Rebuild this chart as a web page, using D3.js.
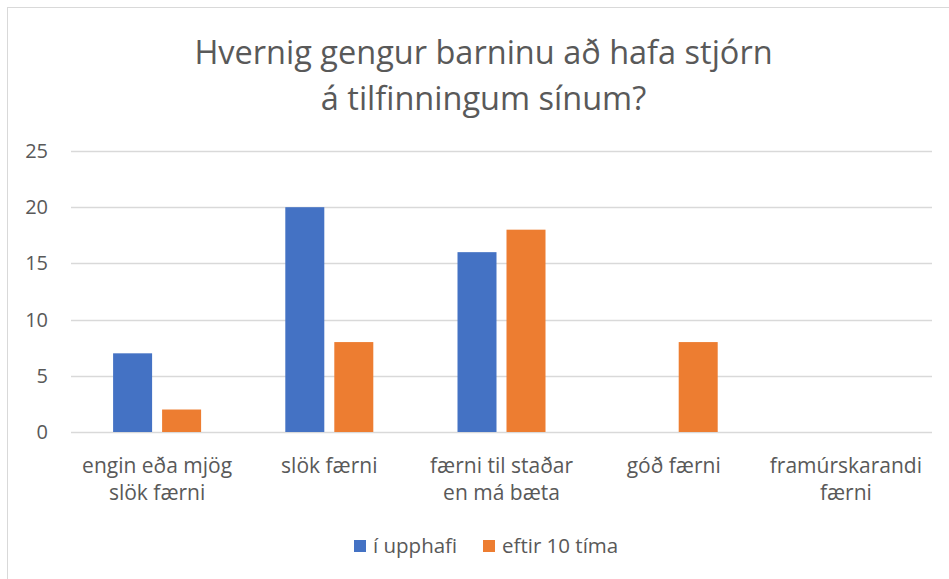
<!DOCTYPE html>
<html>
<head>
<meta charset="utf-8">
<script src="https://cdn.jsdelivr.net/npm/d3@7"></script>
<style>
  body { margin: 0; background: #fff; }
  svg { display: block; }
  text { font-family: "Open Sans", "Noto Sans", sans-serif; fill: #595959; }
</style>
</head>
<body>
<div id="chart"></div>
<script>
// chart data
const categories = [
    ['engin eða mjög', 'slök færni'],
    ['slök færni'],
    ['færni til staðar', 'en má bæta'],
    ['góð færni'],
    ['framúrskarandi', 'færni']
];
const seriesNames = ['í upphafi', 'eftir 10 tíma'];
const seriesColors = ['#4472C4', '#ED7D31'];
const upphafi = [7, 20, 16, 0, 0];
const eftir = [2, 8, 18, 8, 0];
const yTicks = [0, 5, 10, 15, 20, 25];
const titleLines = ['Hvernig gengur barninu að hafa stjórn', 'á tilfinningum sínum?'];

const width = 949, height = 579;
const svg = d3.select('#chart').append('svg')
    .attr('width', width).attr('height', height);

// outer chart frame
svg.append('rect')
    .attr('x', 7.5).attr('y', 7.5)
    .attr('width', width).attr('height', height)
    .attr('fill', '#fff')
    .attr('stroke', '#D9D9D9');

const plot = { left: 71, right: 932, top: 151, bottom: 432 };

const x = d3.scaleBand()
    .domain(d3.range(categories.length))
    .range([plot.left, plot.right]);
const y = d3.scaleLinear()
    .domain([0, 25])
    .range([plot.bottom, plot.top]);

const barW = 39, innerGap = 10;
const x1 = d3.scaleBand()
    .domain([0, 1])
    .range([0, barW * 2 + innerGap])
    .paddingInner(innerGap / (barW + innerGap));

// gridlines
svg.append('g').selectAll('line').data(yTicks).join('line')
    .attr('x1', plot.left).attr('x2', plot.right)
    .attr('y1', d => Math.round(y(d)) + 0.5)
    .attr('y2', d => Math.round(y(d)) + 0.5)
    .attr('stroke', '#D9D9D9')
    .attr('stroke-width', 1.3);

// y tick labels
svg.append('g').selectAll('text').data(yTicks).join('text')
    .attr('x', 48)
    .attr('y', d => y(d))
    .attr('dy', '0.35em')
    .attr('text-anchor', 'end')
    .style('font-size', '20px')
    .text(d => d);

// bars
const rows = categories.map((c, i) => ({ i, vals: [upphafi[i], eftir[i]] }));
const groupW = barW * 2 + innerGap;
const groups = svg.append('g').selectAll('g').data(rows).join('g')
    .attr('transform', d => `translate(${x(d.i) + (x.bandwidth() - groupW) / 2},0)`);
groups.selectAll('rect').data(d => d.vals.map((v, s) => ({ v, s })))
    .join('rect')
    .attr('x', d => x1(d.s))
    .attr('width', x1.bandwidth())
    .attr('y', d => y(d.v))
    .attr('height', d => y(0) - y(d.v))
    .attr('fill', d => seriesColors[d.s]);

// category labels
const catG = svg.append('g').selectAll('text').data(categories).join('text')
    .attr('text-anchor', 'middle')
    .style('font-size', '21px')
    .attr('transform', (d, i) => `translate(${x(i) + x.bandwidth() / 2},473)`);
catG.selectAll('tspan').data(d => d).join('tspan')
    .attr('x', 0)
    .attr('y', (d, j) => j * 27)
    .text(d => d);

// title
svg.append('text')
    .attr('text-anchor', 'middle')
    .attr('transform', `translate(${(plot.left + plot.right) / 2 - 18},0)`)
    .style('font-size', '32.5px')
    .selectAll('tspan').data(titleLines).join('tspan')
    .attr('x', 0)
    .attr('y', (d, j) => 64 + j * 46)
    .text(d => d);

// legend
const legendX = [354, 483];
const legend = svg.append('g').selectAll('g').data(seriesNames).join('g')
    .attr('transform', (d, i) => `translate(${legendX[i]},540)`);
legend.append('rect')
    .attr('width', 12).attr('height', 12)
    .attr('fill', (d, i) => seriesColors[i]);
legend.append('text')
    .attr('x', 19).attr('y', 6)
    .attr('dy', '0.35em')
    .style('font-size', '20.5px')
    .text(d => d);
</script>
</body>
</html>
